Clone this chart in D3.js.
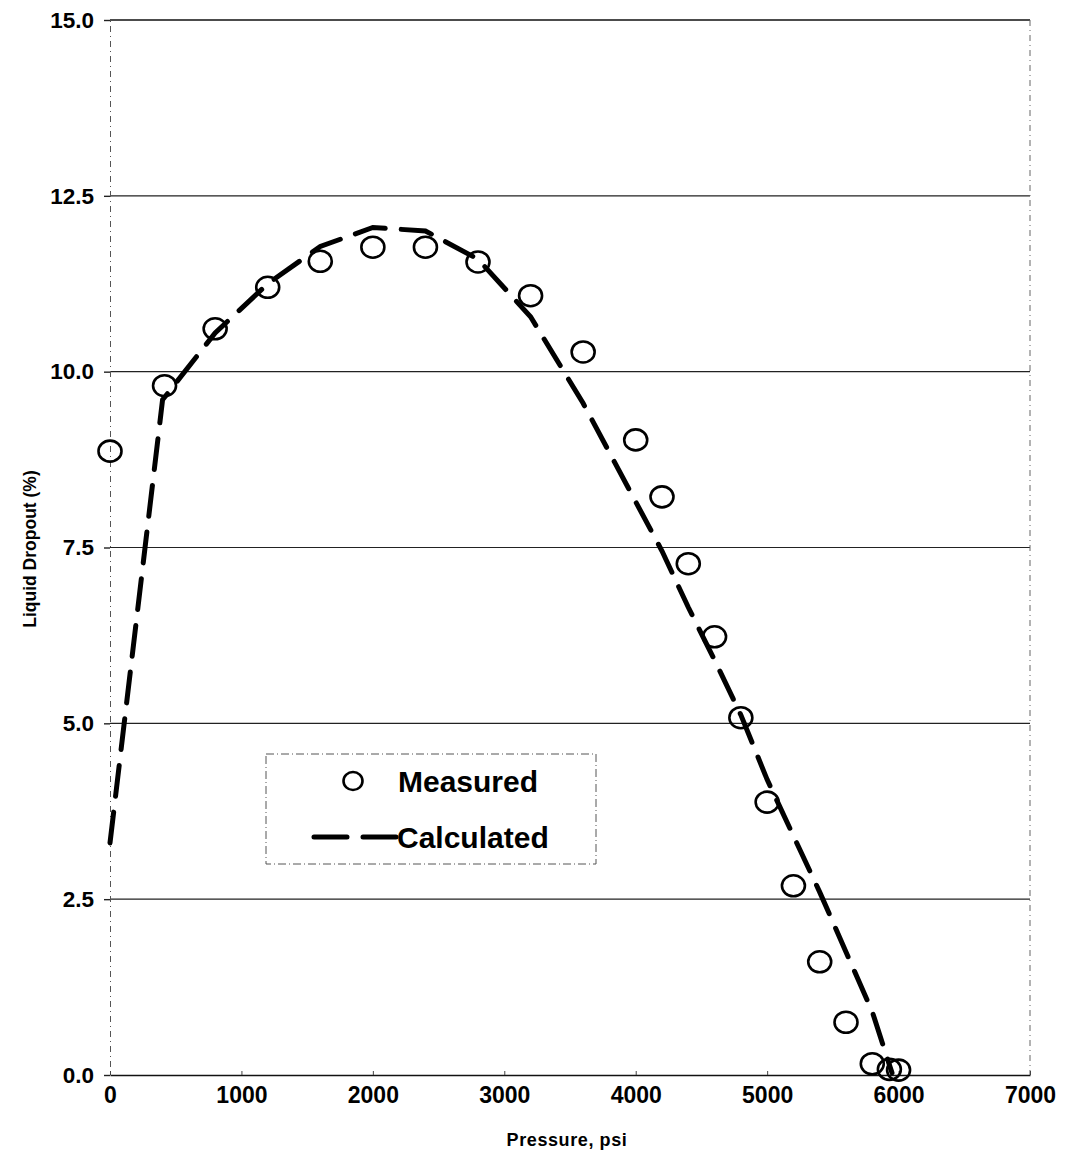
<!DOCTYPE html>
<html>
<head>
<meta charset="utf-8">
<script src="https://cdn.jsdelivr.net/npm/d3@7/dist/d3.min.js"></script>
<style>
  html, body { margin: 0; padding: 0; background: #fff; }
  svg { display: block; }
  text { font-family: "Liberation Sans", Arial, sans-serif; font-weight: bold; fill: #000; }
</style>
</head>
<body>
<script>
// Measured liquid dropout points (pressure in psi, dropout in %)
const measuredPressure = [0, 415, 800, 1200, 1600, 2000, 2400, 2800, 3200, 3600, 4000, 4200, 4400, 4600, 4800, 5000, 5200, 5400, 5600, 5800, 5930, 6000];
const measuredDropout  = [8.87, 9.8, 10.61, 11.2, 11.57, 11.77, 11.77, 11.56, 11.08, 10.28, 9.03, 8.22, 7.27, 6.23, 5.08, 3.88, 2.69, 1.61, 0.75, 0.16, 0.08, 0.07];

// Calculated dropout curve
const calcPressure = [0, 400, 800, 1200, 1600, 2000, 2400, 2800, 3200, 3600, 4000, 4200, 4400, 4600, 4800, 5000, 5200, 5400, 5600, 5800, 5950];
const calcDropout  = [3.3, 9.6, 10.55, 11.25, 11.78, 12.05, 12.0, 11.6, 10.78, 9.55, 8.15, 7.45, 6.65, 5.9, 5.12, 4.2, 3.4, 2.6, 1.75, 0.9, 0.03];

// Axis ticks
const xTicks = [0, 1000, 2000, 3000, 4000, 5000, 6000, 7000];
const yTicks = [0, 2.5, 5, 7.5, 10, 12.5, 15];
const legendLabels = ["Measured", "Calculated"];

const W = 1065, H = 1159;
const svg = d3.select("body").append("svg").attr("width", W).attr("height", H);

const x = d3.scaleLinear().domain([0, 7000]).range([110, 1030]);
const y = d3.scaleLinear().domain([0, 15]).range([1075, 20]);

// Horizontal gridlines
svg.append("g").selectAll("line")
  .data(yTicks.filter(d => d > 0 && d < 15))
  .join("line")
  .attr("x1", x(0)).attr("x2", x(7000))
  .attr("y1", d => y(d)).attr("y2", d => y(d))
  .attr("stroke", "#222").attr("stroke-width", 1.2);

// Plot frame: solid top and bottom, broken sides
svg.append("line").attr("x1", x(0)).attr("x2", x(7000)).attr("y1", y(15)).attr("y2", y(15))
  .attr("stroke", "#111").attr("stroke-width", 1.6);
svg.append("line").attr("x1", x(7000)).attr("x2", x(7000)).attr("y1", y(15)).attr("y2", y(0))
  .attr("stroke", "#666").attr("stroke-width", 1).attr("stroke-dasharray", "6,4,1,4");

// Y axis
const yAxis = d3.axisLeft(y).tickValues(yTicks).tickFormat(d3.format(".1f")).tickSize(6).tickPadding(10);
const gy = svg.append("g").attr("transform", `translate(${x(0)},0)`).call(yAxis);
gy.select(".domain").attr("stroke", "#555").attr("stroke-width", 1).attr("stroke-dasharray", "6,4,1,4");
gy.selectAll(".tick line").attr("stroke", "#222").attr("stroke-width", 1.4);
gy.selectAll(".tick text").style("font-size", "22.5px").style("font-family", "'Liberation Sans', Arial, sans-serif")
  .style("font-weight", "bold").attr("fill", "#000");

// X axis
const xAxis = d3.axisBottom(x).tickValues(xTicks).tickFormat(d3.format("d")).tickSizeInner(-4).tickSizeOuter(0).tickPadding(12);
const gx = svg.append("g").attr("transform", `translate(0,${y(0)})`).call(xAxis);
gx.select(".domain").attr("stroke", "#111").attr("stroke-width", 1.6);
gx.selectAll(".tick line").attr("stroke", "#444").attr("stroke-width", 1);
gx.selectAll(".tick text").style("font-size", "23px").style("font-family", "'Liberation Sans', Arial, sans-serif")
  .style("font-weight", "bold").attr("fill", "#000");

// Axis titles
svg.append("text").attr("x", x(3500) - 3).attr("y", 1146).attr("text-anchor", "middle")
  .style("font-size", "18px").style("letter-spacing", "0.6px").text("Pressure, psi");
svg.append("text").attr("transform", `translate(36,${549}) rotate(-90)`).attr("text-anchor", "middle")
  .style("font-size", "17.5px").text("Liquid Dropout (%)");

// Calculated curve
const calc = calcPressure.map((p, i) => [p, calcDropout[i]]);
const line = d3.line().x(d => x(d[0])).y(d => y(d[1]));
svg.append("path").datum(calc).attr("d", line)
  .attr("fill", "none").attr("stroke", "#000").attr("stroke-width", 5)
  .attr("stroke-dasharray", "31,16").attr("stroke-linecap", "round");

// Measured points
const meas = measuredPressure.map((p, i) => [p, measuredDropout[i]]);
svg.append("g").selectAll("ellipse").data(meas).join("ellipse")
  .attr("cx", d => x(d[0])).attr("cy", d => y(d[1]))
  .attr("rx", 11.5).attr("ry", 10.5)
  .attr("fill", "none").attr("stroke", "#000").attr("stroke-width", 2.6);

// Legend
const lg = svg.append("g");
lg.append("rect").attr("x", 266).attr("y", 754).attr("width", 330).attr("height", 110)
  .attr("fill", "#fff").attr("stroke", "#555").attr("stroke-width", 1).attr("stroke-dasharray", "8,3,1,3");
lg.append("ellipse").attr("cx", 353).attr("cy", 781).attr("rx", 9.5).attr("ry", 9)
  .attr("fill", "none").attr("stroke", "#000").attr("stroke-width", 2.6);
lg.append("text").attr("x", 398).attr("y", 792).style("font-size", "30px").text(legendLabels[0]);
lg.append("line").attr("x1", 314).attr("x2", 396).attr("y1", 837).attr("y2", 837)
  .attr("stroke", "#000").attr("stroke-width", 5).attr("stroke-dasharray", "33,16").attr("stroke-linecap", "round");
lg.append("text").attr("x", 397).attr("y", 848).style("font-size", "30px").text(legendLabels[1]);
</script>
</body>
</html>
